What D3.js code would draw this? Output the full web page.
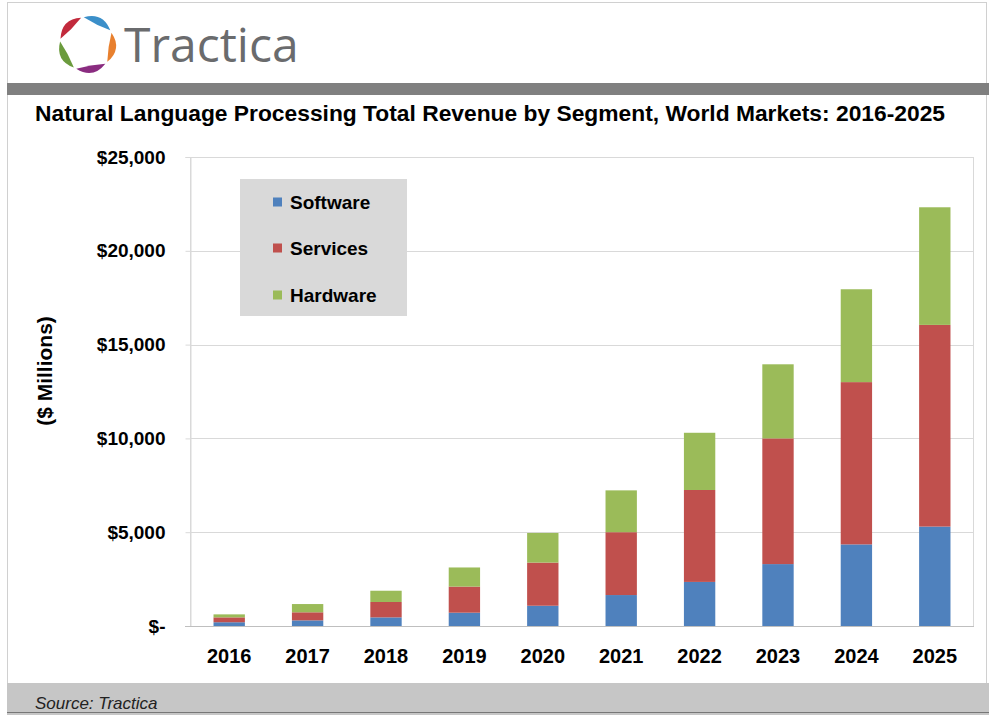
<!DOCTYPE html>
<html><head><meta charset="utf-8">
<script src="https://cdn.jsdelivr.net/npm/d3@7"></script>
<style>html,body{margin:0;padding:0;background:#fff}svg{display:block}</style>
</head><body>
<script>
const years = ["2016","2017","2018","2019","2020","2021","2022","2023","2024","2025"];
const software = [200, 300, 460, 710, 1080, 1650, 2350, 3300, 4350, 5300];
const services = [260, 430, 820, 1390, 2300, 3350, 4900, 6700, 8650, 10750];
const hardware = [160, 440, 600, 1020, 1580, 2230, 3050, 3950, 4950, 6270];
const seriesNames = ["Software", "Services", "Hardware"];
const seriesColors = ["#4F81BD", "#C0504D", "#9BBB59"];
const yTicks = [0, 5000, 10000, 15000, 20000, 25000];
const title = "Natural Language Processing Total Revenue by Segment, World Markets: 2016-2025";
const yTitle = "($ Millions)";
const source = "Source: Tractica";
const brand = "Tractica";

const W = 989, H = 715;
const svg = d3.select("body").append("svg").attr("width", W).attr("height", H);
const font = "'Liberation Sans', Arial, sans-serif";

// frame
svg.append("rect").attr("x",7.5).attr("y",2.5).attr("width",W-10).attr("height",H-4)
  .attr("fill","#fff").attr("stroke","#d0d0d0");
// header bar
svg.append("rect").attr("x",7).attr("y",83).attr("width",W-7).attr("height",12).attr("fill","#808080");
// footer band
svg.append("rect").attr("x",7).attr("y",683).attr("width",W-7).attr("height",H-683).attr("fill","#c6c6c6");
svg.append("line").attr("x1",7).attr("x2",W).attr("y1",712.5).attr("y2",712.5).attr("stroke","#777");

// logo: five tapered petals arranged in a ring
const logoColors = ["#3b8fc9", "#e8802e", "#8a2c80", "#6b9b3d", "#c22a3c"];
const pt = (r, a) => [r*Math.sin(a), -r*Math.cos(a)];
const lg = svg.append("g").attr("transform","translate(87,44)");
logoColors.forEach((c,i)=>{
  const a0 = -0.17 + i*2*Math.PI/5, a1 = a0 + 2*Math.PI/5, gap = 0.05, m = (a0+a1)/2;
  const p0 = pt(27, a0+gap), p1 = pt(27, a1-gap), co = pt(36, m), ci = pt(21, m);
  const p = d3.path();
  p.moveTo(...p0); p.quadraticCurveTo(...co, ...p1); p.quadraticCurveTo(...ci, ...p0); p.closePath();
  lg.append("path").attr("d", p.toString()).attr("fill", c);
});
svg.append("text").attr("x",124).attr("y",62).attr("font-family","'Open Sans', sans-serif")
  .attr("font-size",48).attr("fill","#6a6b6d").text(brand);

// title
svg.append("text").attr("x",35).attr("y",121).attr("font-family",font).attr("font-weight","bold")
  .attr("font-size",22).attr("fill","#000").attr("textLength",910).attr("lengthAdjust","spacingAndGlyphs").text(title);

// plot
const L = 190, R = 974, T = 157, B = 626;
const x = d3.scaleBand().domain(years).range([L, R]).paddingInner(0.6).paddingOuter(0.3);
const y = d3.scaleLinear().domain([0, 25000]).range([B, T]);

svg.append("rect").attr("x",L+0.5).attr("y",T+0.5).attr("width",R-L-1).attr("height",B-T)
  .attr("fill","none").attr("stroke","#d9d9d9");

// gridlines
svg.append("g").selectAll("line").data(yTicks.filter(d=>d>0)).join("line")
  .attr("x1",L).attr("x2",R).attr("y1",d=>Math.round(y(d))+0.5).attr("y2",d=>Math.round(y(d))+0.5)
  .attr("stroke","#d9d9d9");

// stacked bars
const table = years.map((yr,i)=>({year:yr, Software:software[i], Services:services[i], Hardware:hardware[i]}));
const stack = d3.stack().keys(seriesNames)(table);
svg.append("g").selectAll("g").data(stack).join("g").attr("fill",(d,i)=>seriesColors[i])
  .selectAll("rect").data(d=>d).join("rect")
  .attr("x",d=>x(d.data.year)).attr("width",x.bandwidth())
  .attr("y",d=>y(d[1])).attr("height",d=>y(d[0])-y(d[1]));

// y axis
const yAxis = d3.axisLeft(y).tickValues(yTicks).tickSize(5).tickPadding(20)
  .tickFormat(d=> d===0 ? "$-" : "$" + d3.format(",")(d));
const ya = svg.append("g").attr("transform",`translate(${L+0.5},0)`).call(yAxis);
ya.select(".domain").attr("stroke","#d9d9d9");
ya.selectAll(".tick line").attr("stroke","#d9d9d9");
ya.selectAll("text").attr("font-family",font).attr("font-weight","bold").attr("font-size",19).attr("fill","#000");

// x axis
const xAxis = d3.axisBottom(x).tickSize(0).tickPadding(22);
const xa = svg.append("g").attr("transform",`translate(0,${B+0.5})`).call(xAxis);
xa.select(".domain").attr("stroke","#bfbfbf").attr("d",`M${L-5},0H${R}`);
xa.selectAll("text").attr("font-family",font).attr("font-weight","bold").attr("font-size",20).attr("fill","#000");

// y title
svg.append("text").attr("transform","translate(52,371) rotate(-90)").attr("text-anchor","middle")
  .attr("font-family",font).attr("font-weight","bold").attr("font-size",21).attr("fill","#000").text(yTitle);

// legend
const leg = svg.append("g");
leg.append("rect").attr("x",240).attr("y",179).attr("width",167).attr("height",137).attr("fill","#d9d9d9");
const legY = [202, 248, 295];
seriesNames.forEach((n,i)=>{
  leg.append("rect").attr("x",273).attr("y",legY[i]-4.5).attr("width",9).attr("height",9).attr("fill",seriesColors[i]);
  leg.append("text").attr("x",290).attr("y",legY[i]+7).attr("font-family",font).attr("font-weight","bold")
    .attr("font-size",19).attr("fill","#000").text(n);
});

// source
svg.append("text").attr("x",35).attr("y",709).attr("font-family",font).attr("font-style","italic")
  .attr("font-size",17).attr("fill","#222").text(source);
</script>
</body></html>
